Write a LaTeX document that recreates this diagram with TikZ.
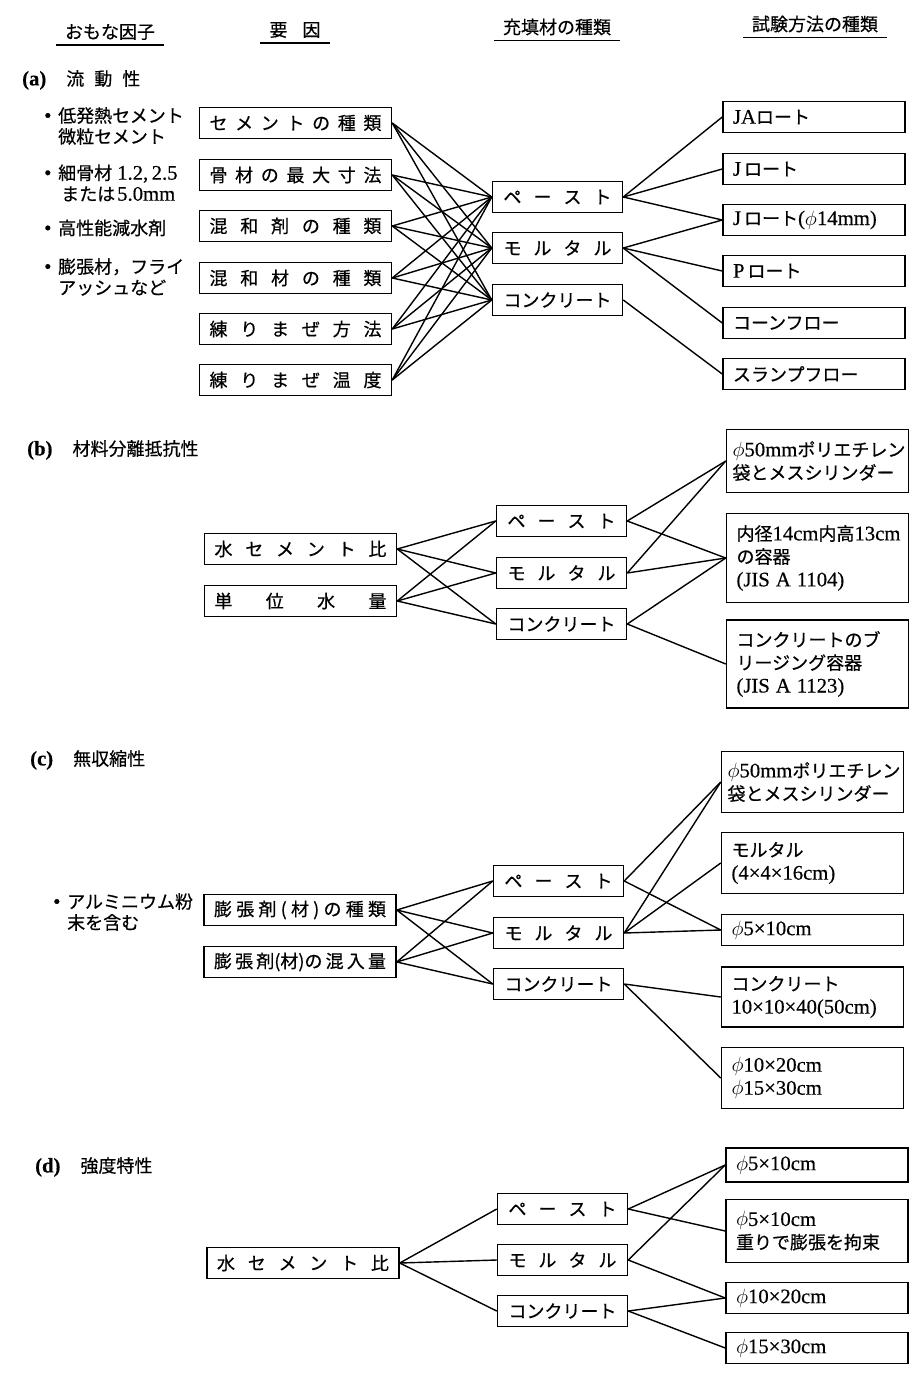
\documentclass[tikz,border=0pt]{standalone}
\usepackage{fontspec}
\setmainfont{Noto Sans CJK JP}[FakeBold=0.5]
\newfontfamily\latfont{Liberation Serif}[Scale=1.15, FakeBold=0.4]
\newcommand\lat[1]{{\latfont #1}}
\newcommand\dia{{\fontsize{21}{23}\selectfont$\phi$}}
\newcommand\spr[2]{\makebox[#1][s]{#2}}
\newcommand\txtP{\spr{108pt}{ペ ー ス ト}}
\newcommand\txtM{\spr{108pt}{モ ル タ ル}}
\newcommand\txtC{コンクリート}
\newcommand\bul{\makebox[14pt][l]{\lat{•}}}
\newcommand\polybag{\hspace*{-4pt}\mbox{\dia\lat{50mm}ポリエチレン}\\\hspace*{-4pt}袋とメスシリンダー}
\tikzset{
  factor/.style={draw, line width=1.5pt, minimum width=192pt, minimum height=31pt, inner sep=0pt},
  filler/.style={draw, line width=1.5pt, minimum width=130pt, minimum height=31pt, inner sep=0pt},
  testbox/.style={draw, line width=1.5pt, text width=162pt, align=left, inner xsep=10pt, inner ysep=0pt, minimum height=31pt},
  tie/.style={line width=1.4pt},
  head/.style={inner sep=1pt},
  uline/.style={line width=1.4pt},
  note/.style={anchor=west, inner sep=0pt, align=left, font=\fontsize{18}{21}\selectfont},
}
\begin{document}
\begin{tikzpicture}[x=1pt, y=-1pt, font=\fontsize{18}{23}\selectfont]
  \useasboundingbox (0,0) rectangle (912,1376);
  % column heads
  \foreach \n/\x/\y/\t in {h1/110/32/おもな因子, h2/295/30/{要\hspace{15pt}因},
      h3/557/27/充填材の種類, h4/815/24/試験方法の種類} {
    \node[head] (\n) at (\x,\y) {\t};
    \draw[uline] ([xshift=-8pt,yshift=-4pt]\n.south west) -- ([xshift=8pt,yshift=-4pt]\n.south east);
  }

  % (a) flowability
  \node[note] (sa) at (22,80) {\lat{\bfseries (a)}\hspace{20pt}流\hspace{10pt}動\hspace{10pt}性};
  \node[note] (na1) at (44,126) {\bul 低発熱セメント\\\hspace*{14pt}微粒セメント};
  \node[note] (na2) at (44,183) {\bul 細骨材\hspace{5pt}\lat{1.2,\,2.5}\\\hspace*{17pt}または\hspace{2pt}\lat{5.0mm}};
  \node[note] (na3) at (44,228) {\bul 高性能減水剤};
  \node[note] (na4) at (44,277) {\bul 膨張材，フライ\\\hspace*{14pt}アッシュなど};
  \foreach \i/\y/\t in {1/123/{セ メ ン ト の 種 類}, 2/175/{骨 材 の 最 大 寸 法},
      3/226/{混 和 剤 の 種 類}, 4/278/{混 和 材 の 種 類},
      5/329/{練 り ま ぜ 方 法}, 6/380/{練 り ま ぜ 温 度}}
    \node[factor] (aF\i) at (295.5,\y) {\spr{172pt}{\t}};
  \node[filler] (aP) at (557.5,197) {\txtP};
  \node[filler] (aM) at (557.5,248) {\txtM};
  \node[filler] (aC) at (557.5,300) {\txtC};
  \foreach \i/\y/\t in {1/117/{\lat{JA}ロート}, 2/169/{\lat{J}\,ロート},
      3/220/{\lat{J}\,ロート\lat{(}\dia\lat{14mm)}}, 4/271/{\lat{P}\,ロート},
      5/323/コーンフロー, 6/374/スランプフロー}
    \node[testbox] (aT\i) at (814,\y) {\t};
  \foreach \f in {aF1,aF2,aF3,aF4,aF5,aF6}
    \foreach \p in {aP,aM,aC}
      \draw[tie] (\f.east) -- (\p.west);
  \foreach \a/\b in {aP/aT1, aP/aT2, aP/aT3, aM/aT3, aM/aT4, aM/aT5, aC/aT6}
    \draw[tie] (\a.east) -- (\b.west);

  % (b) segregation resistance
  \node[note] (sb) at (27,450) {\lat{\bfseries (b)}\hspace{20pt}材料分離抵抗性};
  \node[factor] (bF1) at (300.5,549) {\spr{172pt}{水 セ メ ン ト 比}};
  \node[factor] (bF2) at (300.5,601) {\spr{172pt}{単 位 水 量}};
  \node[filler] (bP) at (561.5,521) {\txtP};
  \node[filler] (bM) at (561.5,573) {\txtM};
  \node[filler] (bC) at (561.5,624) {\txtC};
  \node[testbox, minimum height=63pt] (bT1) at (817.5,461) {\polybag};
  \node[testbox, minimum height=89pt] (bT2) at (817.5,558) {内径\lat{14cm}内高\lat{13cm}\\の容器\\\lat{(JIS A 1104)}};
  \node[testbox, minimum height=88pt] (bT3) at (817.5,664) {コンクリートのブ\\リージング容器\\\lat{(JIS A 1123)}};
  \foreach \f in {bF1,bF2}
    \foreach \p in {bP,bM,bC}
      \draw[tie] (\f.east) -- (\p.west);
  \foreach \a/\b in {bP/bT1, bP/bT2, bM/bT1, bM/bT2, bC/bT2, bC/bT3}
    \draw[tie] (\a.east) -- (\b.west);

  % (c) non-shrinkage
  \node[note] (sc) at (30,760) {\lat{\bfseries (c)}\hspace{20pt}無収縮性};
  \node[note] (nc1) at (53,912) {\bul アルミニウム粉\\\hspace*{14pt}末を含む};
  \node[factor] (cF1) at (300,910) {\spr{172pt}{膨 張 剤 ( 材 ) の 種 類}};
  \node[factor] (cF2) at (300,962) {\spr{172pt}{膨 張 剤(材)の 混 入 量}};
  \node[filler] (cP) at (558.5,881) {\txtP};
  \node[filler] (cM) at (558.5,933) {\txtM};
  \node[filler] (cC) at (558.5,984) {\txtC};
  \node[testbox, minimum height=61pt] (cT1) at (812.5,782) {\polybag};
  \node[testbox, minimum height=61pt] (cT2) at (812.5,863) {モルタル\\\lat{(4×4×16cm)}};
  \node[testbox] (cT3) at (812.5,930) {\dia\lat{5×10cm}};
  \node[testbox, minimum height=60pt] (cT4) at (812.5,997) {コンクリート\\\lat{10×10×40(50cm)}};
  \node[testbox, minimum height=61pt] (cT5) at (812.5,1078) {\dia\lat{10×20cm}\\\dia\lat{15×30cm}};
  \foreach \f in {cF1,cF2}
    \foreach \p in {cP,cM,cC}
      \draw[tie] (\f.east) -- (\p.west);
  \foreach \a/\b in {cP/cT1, cP/cT3, cM/cT1, cM/cT2, cM/cT3, cC/cT4, cC/cT5}
    \draw[tie] (\a.east) -- (\b.west);

  % (d) strength
  \node[note] (sd) at (35,1167) {\lat{\bfseries (d)}\hspace{20pt}強度特性};
  \node[factor] (dF1) at (303,1263) {\spr{172pt}{水 セ メ ン ト 比}};
  \node[filler] (dP) at (562.5,1209) {\txtP};
  \node[filler] (dM) at (562.5,1260) {\txtM};
  \node[filler] (dC) at (562.5,1311) {\txtC};
  \node[testbox, minimum height=34pt] (dT1) at (817,1165) {\dia\lat{5×10cm}};
  \node[testbox, minimum height=63pt] (dT2) at (817,1231) {\dia\lat{5×10cm}\\重りで膨張を拘束};
  \node[testbox] (dT3) at (817,1298) {\dia\lat{10×20cm}};
  \node[testbox] (dT4) at (817,1348) {\dia\lat{15×30cm}};
  \foreach \p in {dP,dM,dC}
    \draw[tie] (dF1.east) -- (\p.west);
  \foreach \a/\b in {dP/dT1, dP/dT2, dM/dT1, dM/dT3, dC/dT3, dC/dT4}
    \draw[tie] (\a.east) -- (\b.west);
\end{tikzpicture}
\end{document}
